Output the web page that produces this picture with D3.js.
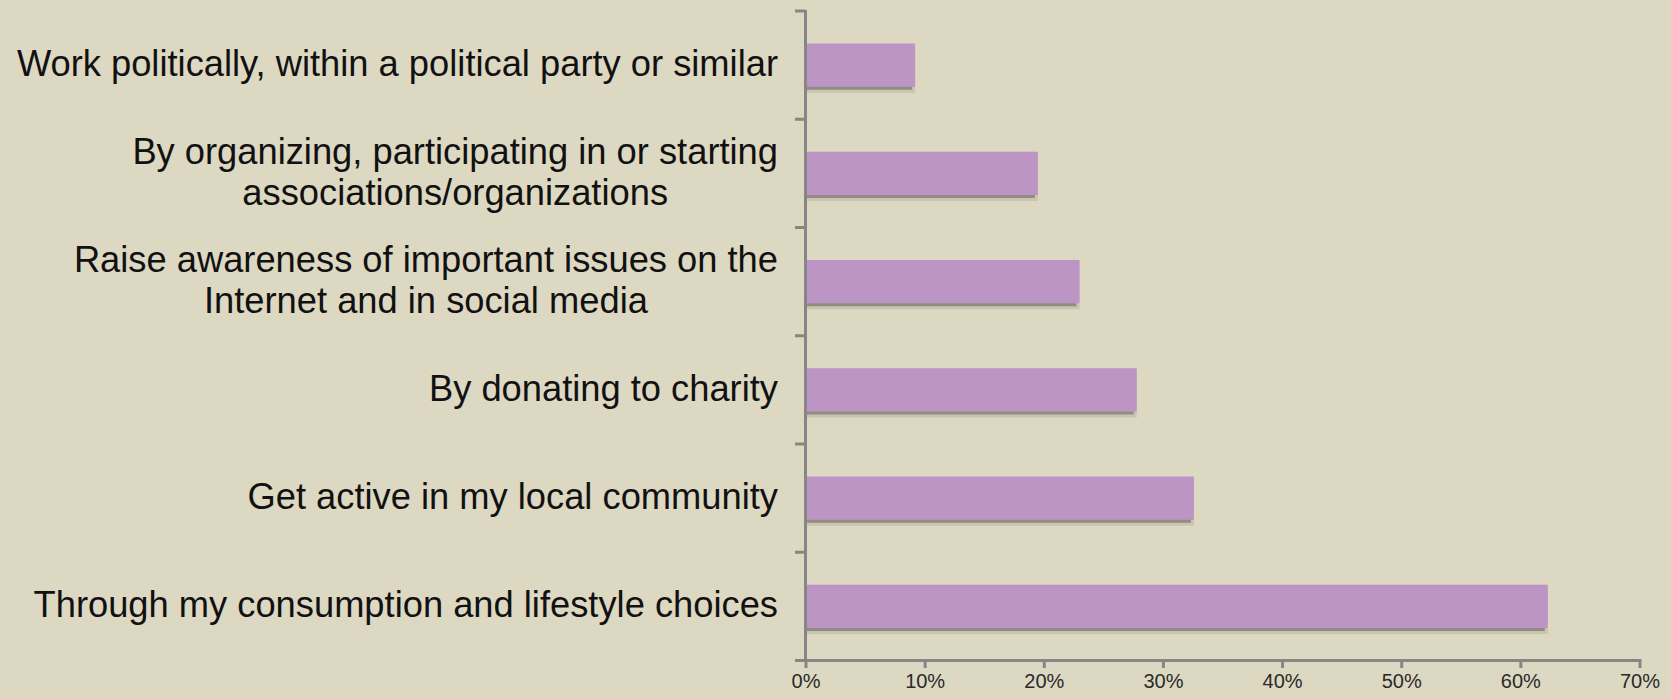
<!DOCTYPE html>
<html>
<head>
<meta charset="utf-8">
<script src="https://cdn.jsdelivr.net/npm/d3@7/dist/d3.min.js"></script>
<style>
  html, body { margin: 0; padding: 0; background: #DDD8C2; }
  svg { display: block; }
</style>
</head>
<body>
<svg id="chart" width="1671" height="699"></svg>
<script>
// ---- data ----
const categories = [
  "Work politically, within a political party or similar",
  "By organizing, participating in or starting associations/organizations",
  "Raise awareness of important issues on the Internet and in social media",
  "By donating to charity",
  "Get active in my local community",
  "Through my consumption and lifestyle choices"
];
const labelLines = [
  ["Work politically, within a political party or similar"],
  ["By organizing, participating in or starting", "associations/organizations"],
  ["Raise awareness of important issues on the", "Internet and in social media"],
  ["By donating to charity"],
  ["Get active in my local community"],
  ["Through my consumption and lifestyle choices"]
];
const values = [0.092, 0.195, 0.230, 0.278, 0.326, 0.623];
const tickValues = [0, 0.1, 0.2, 0.3, 0.4, 0.5, 0.6, 0.7];
const tickLabels = ["0%", "10%", "20%", "30%", "40%", "50%", "60%", "70%"];

// ---- layout ----
const svg = d3.select("#chart");
const axisColor = "#868686";
const barColor = "#BC95C5";
const shadowDark = "#8F8E80";
const shadowLight = "#C9C5B1";

const x = d3.scaleLinear().domain([0, 0.7]).range([805.5, 1639.5]);
const y = d3.scaleBand().domain(categories).range([11, 660.5])
  .paddingInner(0.6).paddingOuter(0.3);
const yBand = d3.scaleBand().domain(categories).range([11, 660.5]).padding(0);

const data = categories.map((c, i) => ({ cat: c, value: values[i], lines: labelLines[i] }));

// shadows
const g = svg.append("g");
g.selectAll("rect.sl").data(data).join("rect")
  .attr("class", "sl")
  .attr("x", x(0) + 1.5)
  .attr("y", d => y(d.cat) + 3)
  .attr("width", d => x(d.value) - x(0) - 1.5)
  .attr("height", y.bandwidth() + 3)
  .attr("fill", shadowLight);
g.selectAll("rect.sd").data(data).join("rect")
  .attr("class", "sd")
  .attr("x", x(0) + 1.5)
  .attr("y", d => y(d.cat) + 3)
  .attr("width", d => x(d.value) - x(0) - 4.5)
  .attr("height", y.bandwidth())
  .attr("fill", shadowDark);
// bars
g.selectAll("rect.bar").data(data).join("rect")
  .attr("class", "bar")
  .attr("x", x(0) + 1.5)
  .attr("y", d => y(d.cat))
  .attr("width", d => x(d.value) - x(0) - 1.5)
  .attr("height", y.bandwidth())
  .attr("fill", barColor);

// x axis
const xAxis = d3.axisBottom(x)
  .tickValues(tickValues)
  .tickFormat((d, i) => tickLabels[i])
  .tickSizeInner(7.5)
  .tickSizeOuter(0)
  .tickPadding(6);
const gx = svg.append("g")
  .attr("transform", "translate(0,660.5)")
  .call(xAxis);
gx.select(".domain").attr("stroke", axisColor).attr("stroke-width", 3)
  .attr("d", `M${x(0) - 10.5},0H${x(0.7) + 1.5}`);
gx.selectAll(".tick line").attr("stroke", axisColor).attr("stroke-width", 3).attr("y1", -1.5);
gx.selectAll(".tick text")
  .attr("font-family", "'Liberation Sans', Arial, sans-serif")
  .attr("font-size", "20px")
  .attr("fill", "#2a2a2a");

// y axis line + ticks at band boundaries
const bounds = categories.map(c => yBand(c)).concat([660.5]);
svg.append("line")
  .attr("x1", x(0)).attr("x2", x(0))
  .attr("y1", 10).attr("y2", 662)
  .attr("stroke", axisColor).attr("stroke-width", 3);
svg.selectAll("line.ytick").data(bounds).join("line")
  .attr("class", "ytick")
  .attr("x1", x(0) - 10.5).attr("x2", x(0))
  .attr("y1", d => d).attr("y2", d => d)
  .attr("stroke", axisColor).attr("stroke-width", 3);

// category labels
const rightEdge = 778;
const lineH = 41;
const lg = svg.append("g")
  .attr("font-family", "'Liberation Sans', Arial, sans-serif")
  .attr("font-size", "36.3px")
  .attr("fill", "#111");
data.forEach(d => {
  const cy = y(d.cat) + y.bandwidth() / 2;
  const t = lg.append("text").attr("text-anchor", "middle");
  const n = d.lines.length;
  const tspans = d.lines.map((ln, j) =>
    t.append("tspan").attr("y", cy - (n - 1) * lineH / 2 + j * lineH + 11).text(ln));
  const maxW = d3.max(tspans, ts => ts.node().getComputedTextLength());
  tspans.forEach(ts => ts.attr("x", rightEdge - maxW / 2));
});
</script>
</body>
</html>
